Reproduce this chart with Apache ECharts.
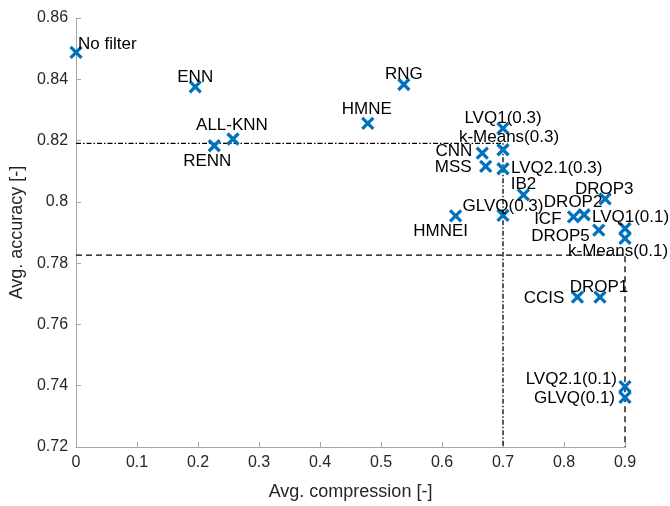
<!DOCTYPE html>
<html>
<head>
<meta charset="utf-8">
<script src="https://cdn.jsdelivr.net/npm/echarts@6/dist/echarts.min.js"></script>
<style>html,body{margin:0;padding:0;background:#fff}#c{width:670px;height:506px}</style>
</head>
<body>
<div id="c"></div>
<script>
const names = ['No filter','ENN','RENN','ALL-KNN','HMNE','RNG','LVQ1(0.3)','k-Means(0.3)','CNN','MSS','LVQ2.1(0.3)','IB2','DROP3','DROP2','ICF','GLVQ(0.3)','HMNEI','LVQ1(0.1)','DROP5','k-Means(0.1)','CCIS','DROP1','LVQ2.1(0.1)','GLVQ(0.1)'];
const compression = [0, 0.1954, 0.2266, 0.2573, 0.4783, 0.5374, 0.7, 0.7, 0.666, 0.6716, 0.7, 0.7335, 0.8675, 0.833, 0.8156, 0.7, 0.6223, 0.9, 0.857, 0.9, 0.822, 0.859, 0.9, 0.9];
const accuracy = [0.8488, 0.8375, 0.8183, 0.8205, 0.8256, 0.8383, 0.824, 0.817, 0.8159, 0.8116, 0.8108, 0.8023, 0.801, 0.7958, 0.7951, 0.7956, 0.7954, 0.7913, 0.7908, 0.7881, 0.7689, 0.7689, 0.7397, 0.7362];
// reference lines
const dashDotLine = [[0, 0.8191], [0.7, 0.8191], [0.7, 0.72]];
const dashedLine = [[0, 0.7826], [0.9, 0.7826], [0.9, 0.72]];
const xTicks = {min: 0, max: 0.9, interval: 0.1};
const yTicks = {min: 0.72, max: 0.86, interval: 0.02};

// label placement (style): [align, dx, dy]
const labelPlace = {
  'No filter': ['left', 2, -8], 'ENN': ['center', 0, -10], 'RENN': ['center', -7, 16],
  'ALL-KNN': ['center', -1, -14], 'HMNE': ['center', -1, -14], 'RNG': ['center', 0, -10],
  'LVQ1(0.3)': ['center', 0, -10], 'k-Means(0.3)': ['center', 6, -12], 'CNN': ['right', -10, -2],
  'MSS': ['right', -14, 1], 'LVQ2.1(0.3)': ['left', 8, 0], 'IB2': ['center', 0, -10],
  'DROP3': ['center', -1, -9], 'DROP2': ['center', -11, -12], 'ICF': ['right', -12, 2],
  'GLVQ(0.3)': ['center', 0, -9], 'HMNEI': ['center', -15, 15], 'LVQ1(0.1)': ['left', -33, -11],
  'DROP5': ['right', -9, 6], 'k-Means(0.1)': ['left', -57, 13], 'CCIS': ['right', -13, 1],
  'DROP1': ['center', -1, -10], 'LVQ2.1(0.1)': ['right', -8, -7], 'GLVQ(0.1)': ['right', -10, 1]
};

const FONT = 'Liberation Sans, Arial, Helvetica, sans-serif';
const fmt = v => String(parseFloat(v.toFixed(2)));

const scatterData = names.map((n, i) => {
  const p = labelPlace[n];
  return {
    name: n,
    value: [compression[i], accuracy[i]],
    label: {show: true, formatter: n, position: 'inside', align: p[0], verticalAlign: 'middle', offset: [p[1], p[2]]}
  };
});

const chart = echarts.init(document.getElementById('c'));
chart.setOption({
  animation: false,
  grid: {left: 76, right: 45, top: 18, bottom: 56, containLabel: false},
  xAxis: {
    type: 'value', min: xTicks.min, max: xTicks.max, interval: xTicks.interval,
    name: 'Avg. compression [-]', nameLocation: 'middle', nameGap: 36,
    nameTextStyle: {fontFamily: FONT, fontSize: 18, color: '#262626'},
    axisLine: {show: true, onZero: false, lineStyle: {color: '#a6a6a6', width: 1}},
    axisTick: {show: true, inside: true, length: 5, lineStyle: {color: '#a6a6a6'}},
    axisLabel: {fontFamily: FONT, fontSize: 16, color: '#262626', margin: 8, formatter: fmt},
    splitLine: {show: false}
  },
  yAxis: {
    type: 'value', min: yTicks.min, max: yTicks.max, interval: yTicks.interval,
    name: 'Avg. accuracy [-]', nameLocation: 'middle', nameGap: 48,
    nameTextStyle: {fontFamily: FONT, fontSize: 18, color: '#262626'},
    axisLine: {show: true, onZero: false, lineStyle: {color: '#a6a6a6', width: 1}},
    axisTick: {show: true, inside: true, length: 5, lineStyle: {color: '#a6a6a6'}},
    axisLabel: {fontFamily: FONT, fontSize: 16, color: '#262626', margin: 8, formatter: fmt},
    splitLine: {show: false}
  },
  series: [
    {
      type: 'line', data: dashDotLine, symbol: 'none', silent: true, z: 1,
      lineStyle: {color: '#000', width: 1.3, type: [5, 2, 1.5, 2]}
    },
    {
      type: 'line', data: dashedLine, symbol: 'none', silent: true, z: 1,
      lineStyle: {color: '#000', width: 1.3, type: [6, 4]}
    },
    {
      type: 'scatter', data: scatterData, z: 3,
      symbol: 'path://M0,0L10,10M10,0L0,10', symbolSize: 11,
      itemStyle: {color: 'rgba(0,0,0,0)', borderColor: '#0072BD', borderWidth: 3.3, opacity: 1},
      label: {fontFamily: FONT, fontSize: 17, color: '#000'}
    }
  ]
});
</script>
</body>
</html>
